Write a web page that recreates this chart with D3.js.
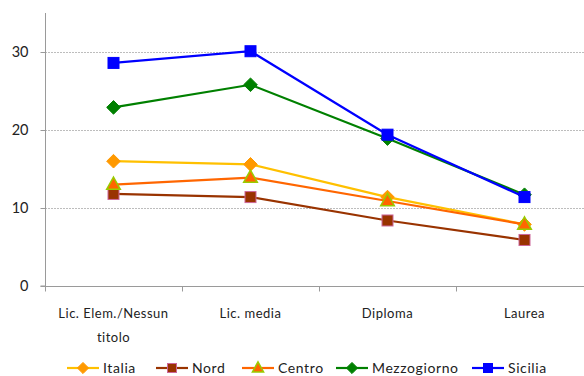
<!DOCTYPE html>
<html>
<head>
<meta charset="utf-8">
<script src="https://cdn.jsdelivr.net/npm/d3@7"></script>
<style>
  html, body { margin: 0; padding: 0; background: #fff; }
  svg { display: block; font-family: Lato, "Liberation Sans", sans-serif; }
</style>
</head>
<body>
<svg id="chart" width="584" height="376"></svg>
<script>
// Categories: level of education
const categories = ["Lic. Elem./Nessun titolo", "Lic. media", "Diploma", "Laurea"];
const categoryLines = [["Lic. Elem./Nessun", "titolo"], ["Lic. media"], ["Diploma"], ["Laurea"]];

// Series values per area
const italia      = [16.0, 15.6, 11.4, 7.9];
const nord        = [11.8, 11.4, 8.4, 5.9];
const centro      = [13.0, 13.9, 10.9, 7.9];
const mezzogiorno = [22.9, 25.8, 18.9, 11.7];
const sicilia     = [28.6, 30.1, 19.4, 11.4];

const yTicks = [0, 10, 20, 30];

const series = [
  { name: "Italia",      values: italia,      line: "#FFC000", fill: "#FF9900", stroke: "#FF9900", shape: "diamond" },
  { name: "Nord",        values: nord,        line: "#993300", fill: "#993300", stroke: "#CC6699", shape: "square" },
  { name: "Centro",      values: centro,      line: "#FF6600", fill: "#FF6600", stroke: "#99CC00", shape: "triangle" },
  { name: "Mezzogiorno", values: mezzogiorno, line: "#008000", fill: "#008000", stroke: "#008000", shape: "diamond" },
  { name: "Sicilia",     values: sicilia,     line: "#0000FF", fill: "#0000FF", stroke: "#0000FF", shape: "square" }
];

const svg = d3.select("#chart");
const plotLeft = 45, plotBottom = 286, plotTop = 13;
const bandW = 137;

const x = d3.scaleBand().domain(categories).range([plotLeft, plotLeft + bandW * categories.length]).paddingInner(0).paddingOuter(0);
const y = d3.scaleLinear().domain([0, 35]).range([plotBottom, plotTop]);

// Gridlines
svg.append("g").selectAll("line").data(yTicks.filter(d => d > 0)).join("line")
  .attr("x1", plotLeft).attr("x2", 584)
  .attr("y1", d => Math.round(y(d)) + 0.5).attr("y2", d => Math.round(y(d)) + 0.5)
  .attr("stroke", "#bdbdbd").attr("stroke-width", 1).attr("stroke-dasharray", "2,1");

// Y axis
const yAxis = svg.append("g").attr("transform", `translate(${plotLeft + 0.5},0)`)
  .call(d3.axisLeft(y).tickValues(yTicks).tickSize(5).tickPadding(12).tickFormat(d3.format("d")));
yAxis.select(".domain").attr("stroke", "#9a9a9a").attr("d", `M-5,${y(0)}H0V${plotTop}`);
yAxis.selectAll(".tick line").attr("stroke", "#9a9a9a");
yAxis.selectAll(".tick text").attr("font-size", 14.5).attr("fill", "#222").attr("font-family", "Lato, sans-serif");

// X axis
const xTickPos = d3.range(categories.length + 1).map(i => plotLeft + i * bandW);
const xAxis = svg.append("g").attr("transform", `translate(0,${plotBottom + 0.5})`);
xAxis.append("line").attr("x1", plotLeft).attr("x2", 584).attr("y1", 0).attr("y2", 0)
  .attr("stroke", "#9a9a9a").attr("stroke-width", 1);
xAxis.selectAll("line.tk").data(xTickPos).join("line").attr("class", "tk")
  .attr("x1", d => Math.round(d) + 0.5).attr("x2", d => Math.round(d) + 0.5)
  .attr("y1", 0).attr("y2", 5).attr("stroke", "#9a9a9a");

const xl = svg.append("g").selectAll("text").data(categories).join("text")
  .attr("x", d => x(d) + x.bandwidth() / 2)
  .attr("y", 318)
  .attr("text-anchor", "middle")
  .attr("font-size", 13)
  .attr("letter-spacing", 0.5)
  .attr("fill", "#222");
xl.each(function(d, i) {
  const t = d3.select(this);
  categoryLines[i].forEach((ln, j) => {
    t.append("tspan").attr("x", x(d) + x.bandwidth() / 2).attr("dy", j === 0 ? 0 : 24).text(ln);
  });
});

// Marker shapes
function marker(g, shape, cx, cy, s, fill, stroke) {
  if (shape === "square") {
    g.append("rect").attr("x", cx - s / 2).attr("y", cy - s / 2).attr("width", s).attr("height", s)
      .attr("fill", fill).attr("stroke", stroke).attr("stroke-width", 1);
  } else if (shape === "diamond") {
    const r = s * 0.62;
    g.append("path").attr("d", `M${cx},${cy - r}L${cx + r},${cy}L${cx},${cy + r}L${cx - r},${cy}Z`)
      .attr("fill", fill).attr("stroke", stroke).attr("stroke-width", 1);
  } else {
    const r = s * 0.62;
    g.append("path").attr("d", `M${cx},${cy - r * 1.1}L${cx + r},${cy + r * 0.7}L${cx - r},${cy + r * 0.7}Z`)
      .attr("fill", fill).attr("stroke", stroke).attr("stroke-width", 1.5);
  }
}

const line = d3.line().x((d, i) => x(categories[i]) + x.bandwidth() / 2).y(d => y(d));

series.forEach(s => {
  const g = svg.append("g");
  g.append("path").datum(s.values).attr("d", line)
    .attr("fill", "none").attr("stroke", s.line).attr("stroke-width", 2.2);
  s.values.forEach((v, i) => {
    marker(g, s.shape, x(categories[i]) + x.bandwidth() / 2, y(v), 11, s.fill, s.stroke);
  });
});

// Legend
const legendX = [67, 156, 242, 336, 472];
const legY = 368;
series.forEach((s, i) => {
  const g = svg.append("g");
  const x0 = legendX[i];
  g.append("line").attr("x1", x0).attr("x2", x0 + 32).attr("y1", legY).attr("y2", legY)
    .attr("stroke", s.line).attr("stroke-width", 2.2);
  marker(g, s.shape, x0 + 16, legY, 9, s.fill, s.stroke);
  g.append("text").attr("x", x0 + 36).attr("y", legY + 5).attr("font-size", 14).attr("fill", "#222")
    .attr("letter-spacing", 0.6).text(s.name);
});
</script>
</body>
</html>
